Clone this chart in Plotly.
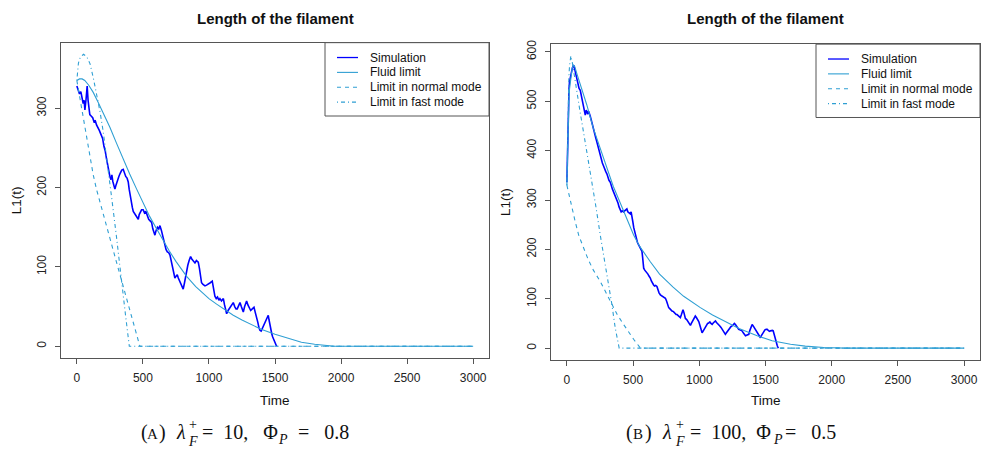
import plotly.graph_objects as go

W, H = 981, 455

# ---------------- Panel A data (lambda_F+ = 10, Phi_P = 0.8) ----------------
simA_t = [0, 10, 20, 30, 40, 48, 55, 61, 70, 78, 85, 92, 98, 110, 120, 130, 140, 149, 160, 170,
          180, 187, 195, 205, 215, 225, 232, 240, 250, 258, 265, 272, 280, 288, 298, 308, 318, 328, 340, 351,
          360, 370, 380, 389, 396, 405, 414, 420, 427, 435, 445, 455, 465, 472, 480, 490, 502, 512, 522, 532,
          544, 555, 566, 575, 583, 591, 600, 610, 620, 629, 640, 649, 657, 667, 675, 685, 695, 705, 715, 725,
          735, 742, 750, 760, 768, 778, 790, 805, 815, 823, 831, 840, 850, 861, 870, 880, 894, 905, 919, 928,
          936, 944, 955, 970, 982, 995, 1010, 1025, 1035, 1045, 1055, 1065, 1075, 1083, 1095, 1109, 1118, 1126, 1134, 1145,
          1159, 1170, 1184, 1195, 1205, 1214, 1224, 1235, 1245, 1252, 1260, 1270, 1278, 1285, 1295, 1305, 1316, 1328, 1341, 1350,
          1361, 1370, 1378, 1386, 1395, 1403, 1411, 1420, 1430, 1440, 1449, 1455, 1462, 1468, 1475, 1482, 1492, 1500, 1506, 1512]
simA_v = [328, 322, 318, 321, 312, 306, 310, 298, 312, 328, 310, 300, 292, 290, 288, 283, 284, 279, 276, 272,
          268, 264, 262, 252, 246, 236, 228, 222, 214, 210, 216, 208, 202, 198, 204, 210, 214, 218, 222, 223,
          218, 214, 212, 207, 198, 188, 180, 175, 170, 168, 166, 163, 160, 166, 170, 172, 172, 168, 170, 164,
          160, 158, 156, 148, 143, 140, 146, 150, 148, 152, 146, 140, 132, 124, 122, 119, 118, 115, 108, 100,
          92, 86, 88, 90, 86, 82, 76, 72, 80, 88, 95, 102, 108, 113, 110, 108, 105, 108, 106, 98,
          88, 80, 78, 76, 77, 78, 80, 82, 72, 63, 60, 62, 58, 60, 57, 60, 52, 46, 41, 45,
          49, 52, 55, 50, 47, 47, 52, 55, 50, 46, 43, 50, 55, 57, 52, 48, 45, 47, 49, 43,
          37, 30, 24, 20, 19, 22, 24, 28, 32, 36, 39, 33, 26, 20, 16, 12, 8, 5, 2, 0]

fluidA_t = [0, 20, 40, 60, 90, 124, 160, 200, 250, 300, 350, 400, 450, 502, 550, 600, 654, 700, 750, 800,
            831, 900, 950, 1000, 1058, 1100, 1184, 1250, 1311, 1400, 1500, 1563, 1650, 1700, 1800, 1891, 1950, 3000]
fluidA_v = [335, 337, 337, 335, 329, 320, 308, 294, 276, 256, 236, 217, 199, 181, 164, 149, 133, 120, 107, 95,
            88, 75, 67, 60, 53, 48, 39, 33, 28, 21, 15, 12, 7, 5, 2.5, 0.8, 0, 0]

normalA_t = [0, 25, 50, 75, 100, 124, 150, 174, 200, 250, 300, 350, 400, 450, 477, 3000]
normalA_v = [335, 310, 285, 261, 238, 216, 197, 182, 166, 136, 106, 76, 46, 16, 0, 0]

fastA_t = [0, 5, 12, 25, 50, 75, 100, 125, 150, 175, 200, 225, 250, 263, 300, 336, 370, 397, 3000]
fastA_v = [335, 348, 357, 364, 368, 365, 356, 338, 318, 296, 270, 240, 208, 188, 138, 83, 37, 0, 0]

# ---------------- Panel B data (lambda_F+ = 100, Phi_P = 0.5) ----------------
simB_t = [0, 3, 6, 9, 12, 16, 20, 25, 30, 36, 42, 48, 52, 58, 64, 70, 76, 84, 92, 101,
          110, 118, 126, 133, 139, 146, 152, 158, 164, 170, 176, 184, 192, 202, 210, 218, 227, 235, 244, 252,
          260, 268, 277, 285, 293, 302, 310, 318, 328, 335, 344, 353, 362, 370, 378, 386, 394, 403, 410, 418,
          428, 436, 444, 453, 460, 468, 479, 485, 491, 498, 505, 511, 517, 525, 533, 542, 550, 558, 567, 572,
          576, 580, 588, 596, 605, 612, 620, 630, 638, 646, 655, 662, 670, 680, 688, 696, 706, 715, 725, 735,
          744, 752, 760, 769, 777, 785, 794, 805, 815, 825, 832, 842, 850, 857, 865, 871, 877, 884, 890, 895,
          905, 915, 925, 933, 940, 950, 960, 970, 978, 987, 996, 1005, 1013, 1021, 1030, 1038, 1046, 1055, 1063, 1071,
          1080, 1088, 1097, 1105, 1113, 1122, 1130, 1139, 1147, 1155, 1164, 1172, 1180, 1188, 1197, 1205, 1214, 1223, 1232, 1240,
          1248, 1257, 1265, 1273, 1281, 1290, 1298, 1306, 1315, 1323, 1332, 1340, 1349, 1357, 1366, 1374, 1382, 1390, 1399, 1407,
          1416, 1424, 1433, 1441, 1450, 1462, 1470, 1480, 1488, 1496, 1505, 1513, 1521, 1530, 1538, 1546, 1552, 1558, 1564, 1570,
          1576, 1582, 1588, 1593, 1598]
simB_v = [336, 380, 430, 470, 500, 525, 540, 548, 556, 562, 568, 572, 573, 566, 558, 550, 544, 536, 526, 522,
          510, 500, 490, 478, 472, 482, 478, 474, 480, 472, 470, 462, 452, 443, 436, 426, 417, 408, 398, 390,
          380, 375, 369, 362, 358, 353, 346, 340, 336, 328, 322, 316, 310, 306, 303, 294, 286, 279, 276, 278,
          276, 278, 280, 282, 276, 274, 272, 276, 269, 256, 244, 236, 229, 222, 214, 209, 204, 200, 196, 184,
          170, 162, 158, 156, 152, 150, 146, 142, 136, 131, 128, 126, 127, 125, 118, 112, 108, 106, 104, 103,
          101, 96, 88, 82, 80, 77, 75, 74, 70, 68, 68, 66, 63, 62, 68, 75, 78, 72, 64, 60,
          58, 54, 49, 46, 50, 56, 62, 65, 62, 58, 54, 46, 38, 31, 35, 39, 41, 46, 50, 51,
          53, 50, 48, 51, 54, 55, 52, 50, 48, 45, 42, 38, 34, 30, 28, 31, 35, 38, 42, 44,
          45, 48, 50, 48, 44, 41, 38, 37, 36, 35, 31, 28, 25, 26, 27, 28, 36, 44, 48, 45,
          41, 38, 33, 28, 24, 21, 26, 31, 35, 37, 38, 38, 36, 34, 35, 36, 36, 35, 28, 22,
          18, 12, 6, 2, 0]

fluidB_t = [0, 3, 6, 10, 15, 20, 30, 40, 50, 60, 80, 100, 126, 150, 200, 252, 300, 350, 400, 450,
            504, 550, 600, 630, 700, 756, 800, 882, 933, 1008, 1100, 1185, 1300, 1437, 1550, 1689, 1800, 1941, 2050, 2100, 3000]
fluidB_v = [330, 380, 420, 465, 500, 525, 552, 567, 573, 570, 552, 535, 515, 493, 445, 403, 364, 328, 296, 263,
            229, 206, 185, 175, 150, 135, 124, 105, 95, 82, 67, 55, 40, 25, 15, 8, 4, 1.2, 0.2, 0, 0]

normalB_t = [0, 20, 40, 63, 90, 126, 160, 200, 252, 300, 340, 380, 428, 470, 504, 530, 555, 3000]
normalB_v = [330, 305, 280, 256, 228, 202, 180, 158, 135, 110, 88, 68, 48, 30, 18, 9, 0, 0]

fastB_t = [0, 3, 6, 10, 15, 20, 25, 30, 40, 50, 60, 76, 100, 126, 150, 189, 220, 252, 280, 302,
           320, 340, 365, 380, 395, 3000]
fastB_v = [330, 400, 460, 510, 550, 572, 585, 592, 580, 562, 542, 517, 478, 437, 400, 336, 285, 229, 185, 149,
           120, 88, 41, 18, 0, 0]

x_ticks = [0, 500, 1000, 1500, 2000, 2500, 3000]
yA_ticks = [0, 100, 200, 300]
yB_ticks = [0, 100, 200, 300, 400, 500, 600]

series_names = ["Simulation", "Fluid limit", "Limit in normal mode", "Limit in fast mode"]

SIM_COLOR = "#0000ff"
LIM_COLOR = "#2f9fd3"
AXIS_COLOR = "#555555"
TEXT_COLOR = "#111111"
FONT = "Liberation Sans, Arial, sans-serif"
SERIF = "Liberation Serif, Times New Roman, serif"

line_styles = [
    dict(color=SIM_COLOR, width=1.6),
    dict(color=LIM_COLOR, width=1.1),
    dict(color=LIM_COLOR, width=1.1, dash="4px,4px"),
    dict(color=LIM_COLOR, width=1.1, dash="1px,3px,4px,3px"),
]

fig = go.Figure()

def add_panel(fig, xa, ya, series):
    for name, (t, v), style in zip(series_names, series, line_styles):
        fig.add_trace(go.Scatter(x=t, y=v, mode="lines", name=name, line=style,
                                 xaxis=xa, yaxis=ya, showlegend=False))

add_panel(fig, "x", "y", [(simA_t, simA_v), (fluidA_t, fluidA_v), (normalA_t, normalA_v), (fastA_t, fastA_v)])
add_panel(fig, "x2", "y2", [(simB_t, simB_v), (fluidB_t, fluidB_v), (normalB_t, normalB_v), (fastB_t, fastB_v)])

def px_x(p):
    return p / W

def px_y(p):
    return 1 - p / H

common_axis = dict(showline=True, mirror=True, linecolor=AXIS_COLOR, linewidth=1,
                   ticks="outside", ticklen=5, tickcolor=AXIS_COLOR, tickwidth=1,
                   showgrid=False, zeroline=False,
                   tickfont=dict(family=FONT, size=12, color="#222222"))

A_left, A_right, A_top, A_bot = 61, 489, 39, 357
B_left, B_right, B_top, B_bot = 551, 980, 40.5, 359

fig.update_layout(
    width=W, height=H, margin=dict(l=0, r=0, t=0, b=0),
    paper_bgcolor="white", plot_bgcolor="white",
    font=dict(family=FONT, color=TEXT_COLOR),
    showlegend=False,
    xaxis=dict(domain=[px_x(A_left), px_x(A_right)], range=[-120, 3120], tickvals=x_ticks,
               anchor="y", ticklabelstandoff=4, **common_axis),
    yaxis=dict(domain=[px_y(A_bot), px_y(A_top)], range=[-14.7, 382.7], tickvals=yA_ticks,
               tickangle=-90, anchor="x", ticklabelstandoff=4, **common_axis),
    xaxis2=dict(domain=[px_x(B_left), px_x(B_right)], range=[-120, 3120], tickvals=x_ticks,
                anchor="y2", ticklabelstandoff=4, **common_axis),
    yaxis2=dict(domain=[px_y(B_bot), px_y(B_top)], range=[-23.7, 615.7], tickvals=yB_ticks,
                tickangle=-90, anchor="x2", ticklabelstandoff=4, **common_axis),
)

ann = []
shapes = []

def text_at(x, y, text, size, family=FONT, xanchor="center", angle=0):
    ann.append(dict(x=px_x(x), y=px_y(y), xref="paper", yref="paper", showarrow=False,
                    text=text, textangle=angle, font=dict(family=family, size=size, color=TEXT_COLOR),
                    xanchor=xanchor, yanchor="middle", borderpad=0))

for cx in [(A_left + A_right) / 2, (B_left + B_right) / 2]:
    text_at(cx, 15, "<b>Length of the filament</b>", 15)
    text_at(cx, 400, "Time", 13.5)

for lx, top, bot in [(16, A_top, A_bot), (506, B_top, B_bot)]:
    text_at(lx, (top + bot) / 2, "L1(t)", 13.5, angle=-90)

# legends (one per panel, boxed key in the top-right corner of each plot)
for box_l, box_r, box_t in [(325, A_right, A_top), (816, B_right, B_top)]:
    box_b = box_t + 74
    shapes.append(dict(type="rect", xref="paper", yref="paper",
                       x0=px_x(box_l), x1=px_x(box_r), y0=px_y(box_b), y1=px_y(box_t),
                       line=dict(color=AXIS_COLOR, width=1), fillcolor="white", layer="above"))
    for i, (name, style) in enumerate(zip(series_names, line_styles)):
        ry = box_t + 15 + 15 * i
        st = dict(style)
        st["width"] = 1.3 if i == 0 else 1.1
        shapes.append(dict(type="line", xref="paper", yref="paper",
                           x0=px_x(box_l + 12), x1=px_x(box_l + 33), y0=px_y(ry), y1=px_y(ry),
                           line=st, layer="above"))
        text_at(box_l + 44, ry, name, 12, xanchor="left")

# captions, assembled piece by piece
NB = "\u00a0"
captions = [
    # "(" x, letter center, ")" x, lambda x, +/F center, "= .., Φ" x, gap before Φ, P center, "= .." x
    (140, 152, 158, 175, 192.5, 201, 3, 283, 297, "A", "10", "0.8"),
    (625, 637.5, 644, 661, 679.5, 689, 2, 778, 784, "B", "100", "0.5"),
]
for xo, xlet, xc, xlam, xsf, xe1, gap, xp, xe2, letter, lam, phi in captions:
    text_at(xo, 432, "(", 20, SERIF, "left")
    text_at(xlet, 433.5, letter, 15, SERIF)
    text_at(xc, 432, ")", 20, SERIF, "left")
    text_at(xlam, 432, "<i>λ</i>", 20, SERIF, "left")
    text_at(xsf, 424, "+", 14, SERIF)
    text_at(xsf, 441, "<i>F</i>", 14, SERIF)
    text_at(xe1, 432, "=" + NB + NB + lam + "," + NB * gap + "Φ", 20, SERIF, "left")
    text_at(xp, 439, "<i>P</i>", 14, SERIF)
    text_at(xe2, 432, "=" + NB + NB + NB + phi, 20, SERIF, "left")

fig.update_layout(annotations=ann, shapes=shapes)

fig.write_html("out.html", config={"displayModeBar": False},
               post_script="document.body.style.margin='0px';")
